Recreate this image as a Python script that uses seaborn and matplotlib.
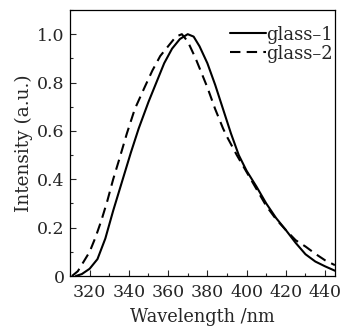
import matplotlib
matplotlib.use("Agg")
import matplotlib.pyplot as plt
import seaborn as sns
import pandas as pd
from matplotlib.ticker import MultipleLocator, FixedLocator, FixedFormatter

sns.set_style("ticks")
plt.rcParams['font.family'] = ['DejaVu Serif']
plt.rcParams['mathtext.fontset'] = 'dejavuserif'

series_names = ["glass–1", "glass–2"]

wl1 = [313, 316, 320, 324, 328, 332, 335, 338, 341, 345, 350, 355, 358, 362, 366,
       370, 373, 376, 380, 384, 388, 392, 396, 400, 405, 410, 415, 420, 425, 430,
       435, 440, 445]
int1 = [0.0, 0.008, 0.03, 0.07, 0.155, 0.27, 0.35, 0.43, 0.51, 0.61, 0.72, 0.82, 0.88,
        0.94, 0.98, 1.0, 0.99, 0.95, 0.88, 0.79, 0.69, 0.59, 0.50, 0.435, 0.37, 0.30,
        0.24, 0.19, 0.137, 0.09, 0.06, 0.04, 0.022]

wl2 = [311, 314, 317, 320, 323, 326, 329, 332, 335, 339, 343, 348, 352, 356, 360,
       364, 367, 370, 374, 377, 380, 384, 388, 390, 395, 400, 405, 410, 415, 420,
       425, 430, 435, 440, 445]
int2 = [0.0, 0.02, 0.06, 0.10, 0.16, 0.23, 0.31, 0.40, 0.48, 0.59, 0.69, 0.78, 0.85,
        0.91, 0.95, 0.99, 1.0, 0.97, 0.90, 0.84, 0.78, 0.69, 0.61, 0.576, 0.50, 0.43,
        0.36, 0.29, 0.235, 0.19, 0.148, 0.122, 0.092, 0.065, 0.045]

xticks = [320, 340, 360, 380, 400, 420, 440]
yticks = [0, 0.2, 0.4, 0.6, 0.8, 1.0]
ytick_labels = ["0", "0.2", "0.4", "0.6", "0.8", "1.0"]

df = pd.concat([
    pd.DataFrame({"Wavelength": wl1, "Intensity": int1, "sample": series_names[0]}),
    pd.DataFrame({"Wavelength": wl2, "Intensity": int2, "sample": series_names[1]}),
])

fig = plt.figure(figsize=(3.46, 3.29), dpi=100)
ax = fig.add_axes([0.2023, 0.161, 0.7657, 0.8086])

sns.lineplot(data=df, x="Wavelength", y="Intensity", hue="sample", style="sample",
             palette=["black", "black"], dashes=[(), (5, 3)], linewidth=1.5,
             sort=False, ax=ax)

ax.set_xlim(310, 445)
ax.set_ylim(0, 1.1)
ax.xaxis.set_major_locator(FixedLocator(xticks))
ax.xaxis.set_minor_locator(MultipleLocator(10))
ax.yaxis.set_major_locator(FixedLocator(yticks))
ax.yaxis.set_major_formatter(FixedFormatter(ytick_labels))
ax.yaxis.set_minor_locator(MultipleLocator(0.1))
ax.tick_params(axis='both', which='major', direction='in', length=4.5, width=0.8,
               labelsize=12.5, top=False, right=False)
ax.tick_params(axis='x', which='major', pad=6)
ax.tick_params(axis='y', which='major', pad=4)
ax.tick_params(axis='both', which='minor', direction='in', length=2.5, width=0.8,
               top=False, right=False)
for s in ax.spines.values():
    s.set_linewidth(0.9)
    s.set_color("black")

ax.set_xlabel("Wavelength /nm", fontsize=12.8, labelpad=5)
ax.set_ylabel("Intensity (a.u.)", fontsize=13.3, labelpad=3)

leg = ax.legend(loc="upper right", frameon=False, fontsize=13, handlelength=2.0,
                handletextpad=0.0, labelspacing=0.05, borderaxespad=0.1,
                bbox_to_anchor=(1.025, 0.975))

fig.savefig("out.png", dpi=100)
